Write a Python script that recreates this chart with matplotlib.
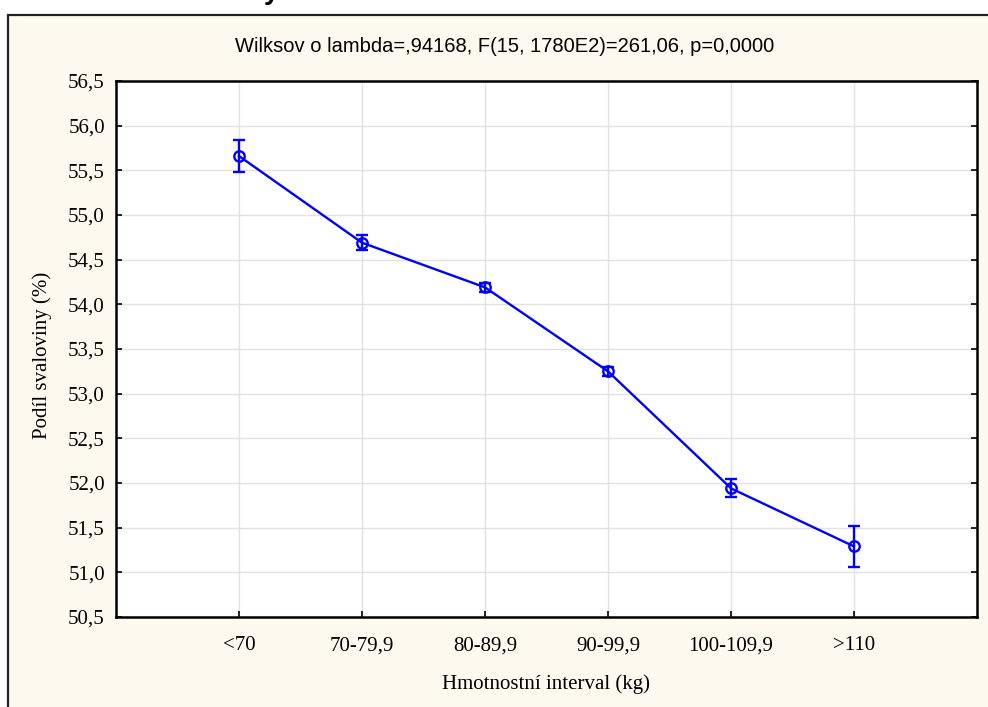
import matplotlib
matplotlib.use("Agg")
import matplotlib.pyplot as plt
from matplotlib.patches import Rectangle

categories = ["<70", "70-79,9", "80-89,9", "90-99,9", "100-109,9", ">110"]
means = [55.66, 54.69, 54.19, 53.25, 51.94, 51.29]
errors = [0.18, 0.085, 0.05, 0.05, 0.10, 0.23]
yticks = [50.5, 51.0, 51.5, 52.0, 52.5, 53.0, 53.5, 54.0, 54.5, 55.0, 55.5, 56.0, 56.5]
ytick_labels = [f"{v:.1f}".replace(".", ",") for v in yticks]

title = "Wilksov o lambda=,94168, F(15, 1780E2)=261,06, p=0,0000"
xlabel = "Hmotnostní interval (kg)"
ylabel = "Podíl svaloviny (%)"

serif = ["Liberation Serif", "DejaVu Serif"]
sans = ["Liberation Sans", "DejaVu Sans"]

W, H = 988, 707
fig = plt.figure(figsize=(W / 100, H / 100), dpi=100)
fig.patch.set_facecolor("white")

# cream frame
frame = Rectangle((8 / W, -0.01), 1.05, 1 - 15 / H + 0.01, transform=fig.transFigure,
                  facecolor="#FEF9EE", edgecolor="#222222", linewidth=1.6, zorder=-5)
fig.patches.append(frame)

# cut-off descender of a heading above the image
fig.text(272 / W, 1 + 1 / H, "y", ha="center", va="baseline", fontsize=20,
         fontweight="bold", fontfamily=sans)

ax = fig.add_axes([116 / W, 1 - 617 / H, (977 - 116) / W, (617 - 81) / H])
ax.set_zorder(2)
ax.set_facecolor("white")

x = list(range(1, len(categories) + 1))
ax.errorbar(x, means, yerr=errors, color="#0000FF", marker="o", markersize=7.5,
            markerfacecolor="none", markeredgewidth=1.7, linewidth=1.7,
            capsize=4.5, capthick=1.7, elinewidth=1.7, zorder=3)

ax.set_xlim(0, 7)
ax.set_ylim(50.5, 56.5)
ax.set_xticks(x)
ax.set_xticklabels(categories, fontfamily=serif, fontsize=15)
ax.set_yticks(yticks)
ax.set_yticklabels(ytick_labels, fontfamily=serif, fontsize=15)
ax.tick_params(axis="both", direction="in", length=4, width=1.2, color="black",
               right=True, top=False)
ax.tick_params(axis="x", pad=14)
ax.tick_params(axis="y", pad=8)
ax.grid(True, color="#E2E2E2", linewidth=1.0)
ax.set_axisbelow(True)
for s in ax.spines.values():
    s.set_linewidth(1.8)
    s.set_color("black")

fig.text(505 / W, 1 - 47 / H, title, ha="center", va="center", fontsize=14.5,
         fontfamily=sans)
fig.text(546 / W, 1 - 684 / H, xlabel, ha="center", va="center", fontsize=15,
         fontfamily=serif)
fig.text(42 / W, 1 - 355 / H, ylabel, ha="center", va="center", fontsize=15,
         fontfamily=serif, rotation=90)

fig.savefig("out.png", dpi=100, facecolor=fig.get_facecolor())
